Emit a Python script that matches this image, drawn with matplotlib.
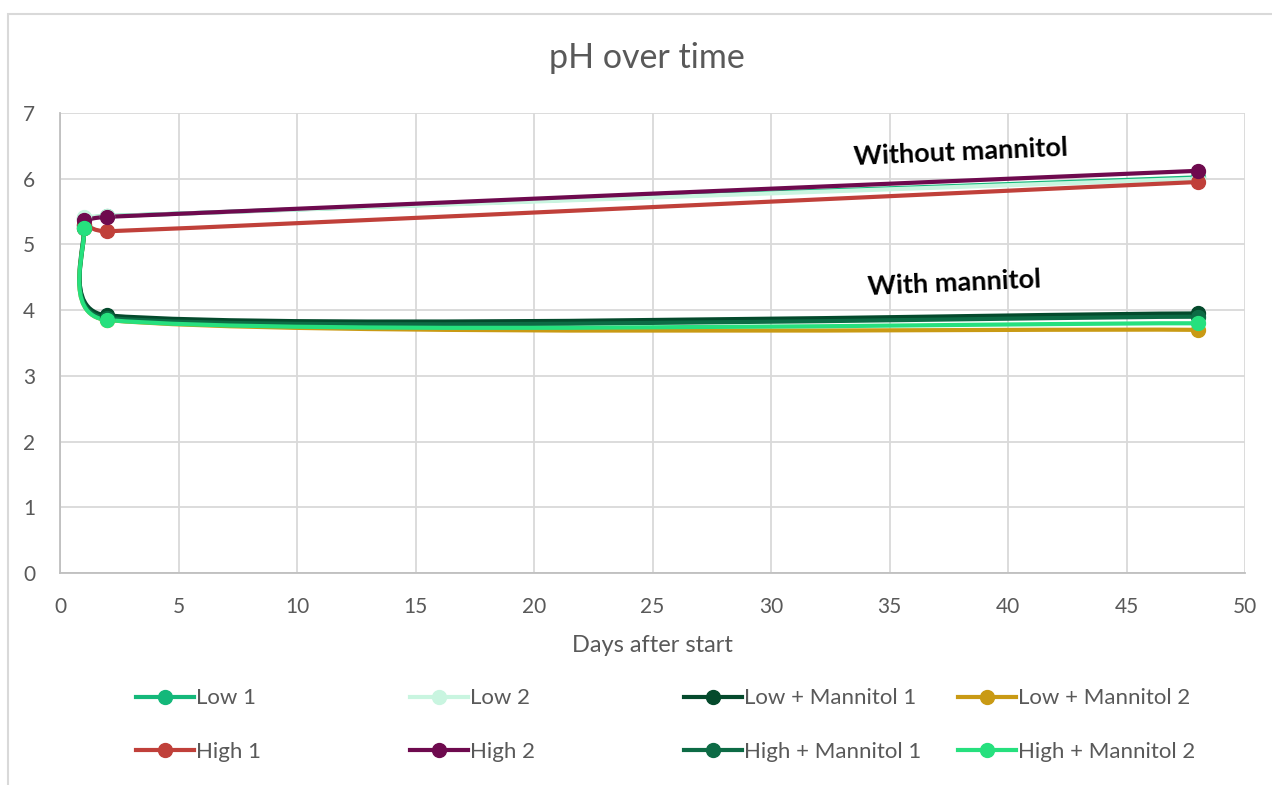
import numpy as np
import matplotlib.pyplot as plt
from matplotlib.path import Path
from matplotlib.patches import PathPatch, Rectangle
from matplotlib.lines import Line2D

plt.rcParams['font.family'] = ['Lato', 'DejaVu Sans']

days = [1, 2, 48]
names = ['Low 1', 'Low 2', 'Low + Mannitol 1', 'Low + Mannitol 2',
         'High 1', 'High 2', 'High + Mannitol 1', 'High + Mannitol 2']
low_1 = [5.40, 5.43, 6.02]
low_2 = [5.42, 5.43, 6.00]
low_m1 = [5.30, 3.92, 3.95]
low_m2 = [5.25, 3.85, 3.70]
high_1 = [5.30, 5.20, 5.95]
high_2 = [5.37, 5.42, 6.12]
high_m1 = [5.25, 3.88, 3.90]
high_m2 = [5.25, 3.85, 3.80]
series = [low_1, low_2, low_m1, low_m2, high_1, high_2, high_m1, high_m2]
colors = ['#14b87a', '#c9f5e0', '#044a2c', '#c99a14',
          '#c0403a', '#6e0a4e', '#0d6b45', '#26e07e']
# drawing order (back to front)
order = [1, 0, 4, 5, 3, 2, 6, 7]

fig = plt.figure(figsize=(12.72, 7.85), dpi=100)
ax = fig.add_axes([60 / 1272, 1 - 573 / 785, 1185 / 1272, 460 / 785])
ax.set_xlim(0, 50)
ax.set_ylim(0, 7)

# scale to pixel-like units so smoothing behaves like Excel
sx = 1185 / 50
sy = 460 / 7


def smooth_path(xs, ys):
    p = np.column_stack([np.array(xs) * sx, np.array(ys) * sy])
    n = len(p)
    verts = [p[0]]
    codes = [Path.MOVETO]
    for i in range(n - 1):
        a, b = p[i], p[i + 1]
        seg = np.linalg.norm(b - a)
        ta = (p[min(i + 1, n - 1)] - p[max(i - 1, 0)]) / 6
        tb = (p[min(i + 2, n - 1)] - p[i]) / 6
        if np.linalg.norm(ta) > seg / 2:
            ta = ta / np.linalg.norm(ta) * seg / 2
        if np.linalg.norm(tb) > seg / 2:
            tb = tb / np.linalg.norm(tb) * seg / 2
        verts += [a + ta, b - tb, b]
        codes += [Path.CURVE4] * 3
    verts = np.array(verts) / [sx, sy]
    return Path(verts, codes)


for k in order:
    ys = series[k]
    ax.add_patch(PathPatch(smooth_path(days, ys), fill=False,
                           edgecolor=colors[k], lw=3, zorder=3 + k * 0.01,
                           capstyle='round'))
    ax.plot(days, ys, 'o', color=colors[k], ms=10, zorder=4 + k * 0.01)

ax.set_xticks(range(0, 51, 5))
ax.set_yticks(range(0, 8))
ax.grid(True, color='#d9d9d9', lw=1.3)
ax.set_axisbelow(True)
for s in ['top', 'right']:
    ax.spines[s].set_visible(False)
for s in ['left', 'bottom']:
    ax.spines[s].set_color('#bfbfbf')
    ax.spines[s].set_linewidth(1.3)
ax.tick_params(length=0, labelsize=15, colors='#595959')
ax.tick_params(axis='x', pad=17)
ax.tick_params(axis='y', pad=18)
ax.set_xlabel('Days after start', fontsize=17, color='#595959', labelpad=13)

fig.text(647 / 1272, 1 - 58 / 785, 'pH over time', ha='center', va='center',
         fontsize=24.5, color='#595959')

fig.text(961 / 1272, 1 - 152 / 785, 'Without mannitol', ha='center',
         va='center', fontsize=19.5, fontweight='bold', rotation=2.5)
fig.text(954 / 1272, 1 - 283 / 785, 'With mannitol', ha='center',
         va='center', fontsize=19.5, fontweight='bold', rotation=2.5)

# one legend per column so the columns sit on a fixed grid like Excel
col_x = [136, 410, 684, 958]
for c in range(4):
    hs = [Line2D([], [], color=colors[i], lw=3, marker='o', ms=10)
          for i in (c, c + 4)]
    fig.legend(hs, [names[c], names[c + 4]], loc='center left',
               bbox_to_anchor=(col_x[c] / 1272, 1 - 725 / 785),
               frameon=False, fontsize=16, labelcolor='#595959',
               handlelength=2.6, handletextpad=0.1, labelspacing=1.5,
               borderaxespad=0, borderpad=0)

border = Rectangle((8 / 1272, -0.1), 1.2, 1.1 - 14 / 785,
                   transform=fig.transFigure, fill=False,
                   edgecolor='#d9d9d9', lw=1.5)
fig.patches.append(border)

fig.savefig('out.png', dpi=100)
